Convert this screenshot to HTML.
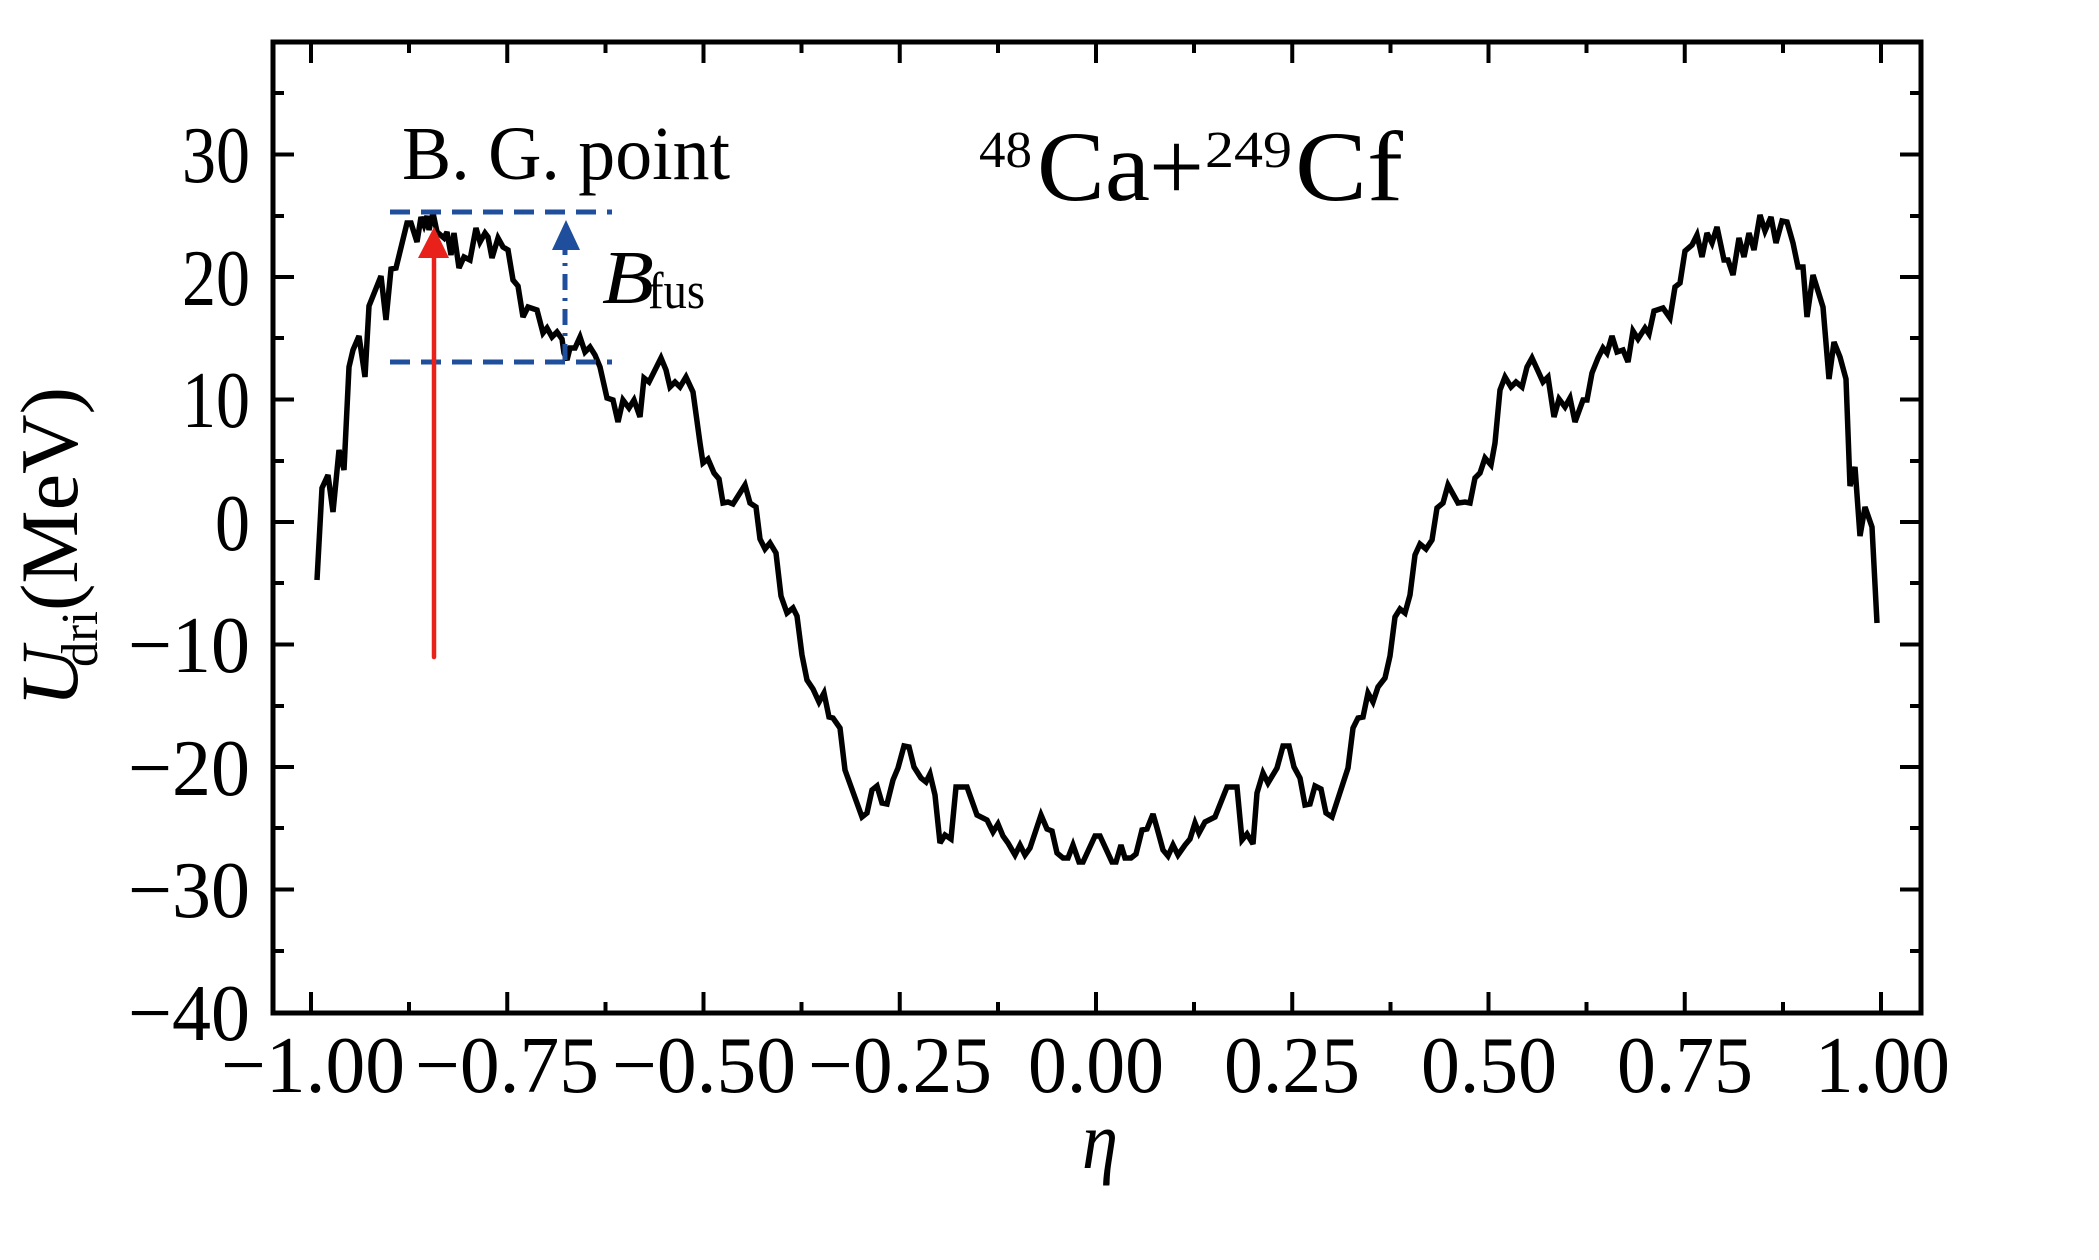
<!DOCTYPE html>
<html><head><meta charset="utf-8"><style>
html,body{margin:0;padding:0;background:#fff;}
svg{display:block;}
text{font-family:"Liberation Serif","DejaVu Serif",serif;fill:#000;}
</style></head><body>
<svg width="2099" height="1260" viewBox="0 0 2099 1260" xmlns="http://www.w3.org/2000/svg">
<rect width="2099" height="1260" fill="#fff"/>

<!-- curve -->
<polyline fill="none" stroke="#000" stroke-width="5.5" stroke-linejoin="miter" stroke-miterlimit="3" points="
317,580 322,488 328,475 333,512 339,450 344,470 349,367 353,350 359,336 365,377 369,306 381,276 386,320 391,269 396,268 407,223 411,223 417,242 421,217 424,225 427,216 429,230 433,213 437,232 444,238 447,232 451,255 454,233 459,268 464,257 470,260 476,228 480,242 485,233 488,237 492,258 498,238 503,247 508,250 513,280 518,286 523,317 528,307 537,310 543,333 547,328 552,337 557,332 562,339 564,353 567,360 570,348 575,348 580,337 585,352 590,347 595,355 600,367 607,398 613,400 618,422 623,400 629,408 634,400 640,417 644,378 649,382 661,358 666,370 670,387 675,382 680,387 686,377 693,392 700,443 703,463 708,459 714,473 719,479 723,503 728,502 733,504 745,485 750,503 756,507 760,539 765,549 770,543 776,553 781,596 787,613 793,608 797,616 802,655 807,680 813,689 819,702 824,693 829,717 833,718 840,728 845,770 862,817 867,813 872,790 877,786 882,803 887,804 893,780 898,768 904,746 909,747 914,767 921,778 926,782 930,774 935,795 940,843 945,835 951,839 956,787 967,787 977,815 987,820 993,832 998,824 1003,836 1008,843 1015,855 1020,845 1025,855 1030,848 1041,815 1047,829 1052,831 1057,853 1063,858 1068,858 1073,845 1079,862 1083,862 1095,836 1100,836 1112,862 1116,862 1121,845 1125,858 1131,858 1136,854 1142,830 1147,829 1153,814 1157,828 1163,850 1168,856 1173,845 1178,855 1185,845 1190,839 1195,823 1199,833 1205,822 1215,817 1227,787 1237,787 1242,840 1247,834 1253,844 1257,793 1263,773 1268,783 1277,768 1283,746 1289,746 1294,767 1300,778 1305,805 1310,804 1315,786 1321,789 1326,813 1332,817 1348,768 1353,728 1358,718 1363,717 1368,693 1373,702 1378,687 1385,678 1390,656 1395,617 1400,609 1405,613 1410,595 1415,555 1420,544 1426,549 1432,540 1437,508 1443,503 1448,485 1458,503 1465,502 1470,503 1475,478 1480,473 1485,458 1491,465 1495,443 1500,390 1505,377 1511,387 1516,382 1522,387 1527,367 1532,358 1538,371 1543,382 1548,377 1554,417 1559,399 1565,407 1570,398 1575,422 1583,400 1587,400 1592,373 1598,358 1603,348 1607,353 1612,336 1617,352 1623,350 1628,362 1633,331 1638,339 1645,328 1649,334 1654,311 1663,308 1670,318 1675,287 1680,283 1685,251 1692,245 1697,235 1702,257 1707,233 1712,243 1717,227 1724,260 1728,260 1733,275 1739,238 1744,257 1749,233 1754,250 1760,215 1765,231 1771,217 1776,243 1782,221 1787,222 1793,243 1798,267 1803,267 1807,317 1813,275 1823,307 1829,379 1834,342 1840,357 1846,379 1850,486 1855,467 1860,536 1865,507 1872,527 1877,623"/>

<!-- blue dashed lines -->
<g stroke="#1f4e9c" stroke-width="5" fill="none">
<line x1="390" y1="212" x2="612" y2="212" stroke-dasharray="20,11"/>
<line x1="390" y1="362" x2="612" y2="362" stroke-dasharray="20,11"/>
<line x1="565" y1="360" x2="565" y2="248" stroke-dasharray="16,8,3,8"/>
</g>
<polygon points="552,250 580,250 566,220" fill="#1f4e9c"/>

<!-- red arrow -->
<line x1="434" y1="657" x2="434" y2="250" stroke="#e8221b" stroke-width="4.5" stroke-linecap="round"/>
<polygon points="418,258 449,258 434,227" fill="#e8221b"/>

<!-- axes frame -->
<rect x="273" y="42" width="1648" height="971" fill="none" stroke="#000" stroke-width="5"/>

<!-- ticks -->
<g stroke="#000" stroke-width="4">
<path d="M311,1013V992M507.25,1013V992M703.5,1013V992M899.75,1013V992M1096,1013V992M1292.25,1013V992M1488.5,1013V992M1684.75,1013V992M1881,1013V992"/>
<path d="M409,1013V1002M605.5,1013V1002M801.5,1013V1002M998,1013V1002M1194,1013V1002M1390.5,1013V1002M1586.5,1013V1002M1783,1013V1002"/>
<path d="M311,42V63M507.25,42V63M703.5,42V63M899.75,42V63M1096,42V63M1292.25,42V63M1488.5,42V63M1684.75,42V63M1881,42V63"/>
<path d="M409,42V53M605.5,42V53M801.5,42V53M998,42V53M1194,42V53M1390.5,42V53M1586.5,42V53M1783,42V53"/>
<path d="M273,154.5H294M273,277H294M273,399.5H294M273,522H294M273,644.5H294M273,767H294M273,889.5H294"/>
<path d="M273,93H284M273,216H284M273,338H284M273,461H284M273,583H284M273,706H284M273,828H284M273,951H284"/>
<path d="M1921,154.5H1900M1921,277H1900M1921,399.5H1900M1921,522H1900M1921,644.5H1900M1921,767H1900M1921,889.5H1900"/>
<path d="M1921,93H1910M1921,216H1910M1921,338H1910M1921,461H1910M1921,583H1910M1921,706H1910M1921,828H1910M1921,951H1910"/>
</g>

<!-- y tick labels -->
<g font-size="81" text-anchor="end">
<text x="250" y="182" textLength="68" lengthAdjust="spacingAndGlyphs">30</text>
<text x="250" y="305" textLength="68" lengthAdjust="spacingAndGlyphs">20</text>
<text x="250" y="427" textLength="68" lengthAdjust="spacingAndGlyphs">10</text>
<text x="250" y="550" textLength="35" lengthAdjust="spacingAndGlyphs">0</text>
<text x="250" y="672" textLength="122" lengthAdjust="spacingAndGlyphs">−10</text>
<text x="250" y="795" textLength="122" lengthAdjust="spacingAndGlyphs">−20</text>
<text x="250" y="917" textLength="122" lengthAdjust="spacingAndGlyphs">−30</text>
<text x="250" y="1040" textLength="122" lengthAdjust="spacingAndGlyphs">−40</text>
</g>

<!-- x tick labels -->
<g font-size="81">
<text x="221" y="1092" textLength="184" lengthAdjust="spacingAndGlyphs">−1.00</text>
<text x="415" y="1092" textLength="184" lengthAdjust="spacingAndGlyphs">−0.75</text>
<text x="612" y="1092" textLength="184" lengthAdjust="spacingAndGlyphs">−0.50</text>
<text x="808" y="1092" textLength="184" lengthAdjust="spacingAndGlyphs">−0.25</text>
<text x="1028" y="1092" textLength="136" lengthAdjust="spacingAndGlyphs">0.00</text>
<text x="1224" y="1092" textLength="136" lengthAdjust="spacingAndGlyphs">0.25</text>
<text x="1421" y="1092" textLength="136" lengthAdjust="spacingAndGlyphs">0.50</text>
<text x="1617" y="1092" textLength="136" lengthAdjust="spacingAndGlyphs">0.75</text>
<text x="1815" y="1092" textLength="135" lengthAdjust="spacingAndGlyphs">1.00</text>
</g>

<!-- x axis label -->
<text x="1082" y="1168" font-size="82" font-style="italic" textLength="36" lengthAdjust="spacingAndGlyphs">η</text>

<!-- y axis label -->
<g transform="translate(77,707) rotate(-90)">
<text x="0" y="0" font-size="82" font-style="italic" textLength="60" lengthAdjust="spacingAndGlyphs">U</text>
<text x="40" y="20" font-size="52" textLength="56" lengthAdjust="spacingAndGlyphs">dri</text>
<text x="96" y="0" font-size="82" textLength="224" lengthAdjust="spacingAndGlyphs">(MeV)</text>
</g>

<!-- annotations -->
<text x="402" y="179" font-size="76" textLength="328" lengthAdjust="spacingAndGlyphs">B. G. point</text>
<text x="602" y="303" font-size="76" font-style="italic" textLength="52" lengthAdjust="spacingAndGlyphs">B</text>
<text x="648" y="308" font-size="52" textLength="57" lengthAdjust="spacingAndGlyphs">fus</text>

<!-- title -->
<text x="979" y="167" font-size="52" textLength="53" lengthAdjust="spacingAndGlyphs">48</text>
<text x="1037" y="200" font-size="100" textLength="113" lengthAdjust="spacingAndGlyphs">Ca</text>
<text x="1149" y="200" font-size="100" textLength="55" lengthAdjust="spacingAndGlyphs">+</text>
<text x="1205" y="167" font-size="52" textLength="87" lengthAdjust="spacingAndGlyphs">249</text>
<text x="1295" y="200" font-size="100" textLength="108" lengthAdjust="spacingAndGlyphs">Cf</text>
</svg>
</body></html>
